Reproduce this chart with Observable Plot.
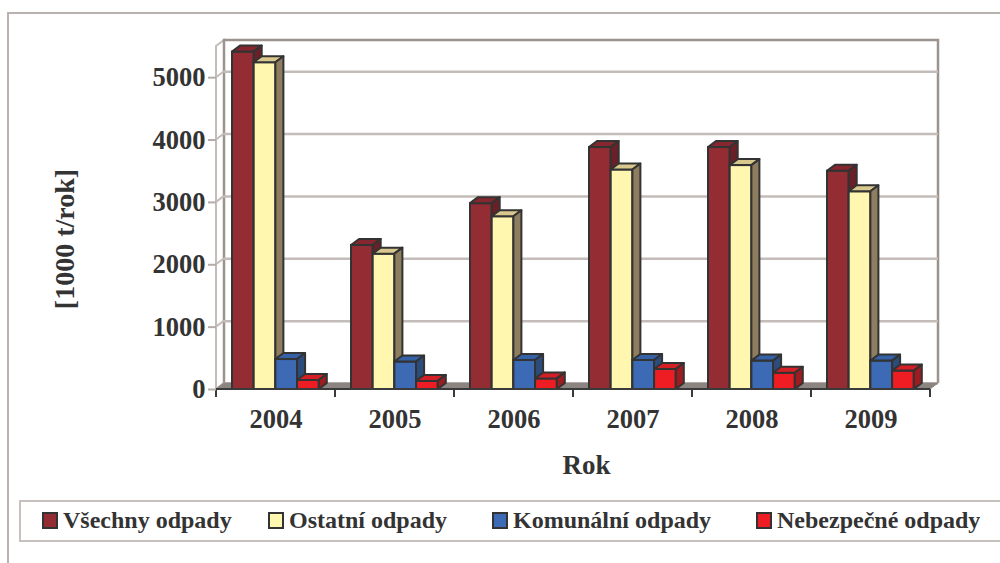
<!DOCTYPE html>
<html><head><meta charset="utf-8">
<script src="https://cdn.jsdelivr.net/npm/d3@7"></script>
<script src="https://cdn.jsdelivr.net/npm/@observablehq/plot@0.6"></script>
<style>
body{margin:0;background:#fff;}
#wrap{position:relative;width:1000px;height:563px;overflow:hidden;font-family:"Liberation Serif","Times New Roman",serif;font-weight:bold;color:#333;}
#frame{position:absolute;left:7px;top:12px;width:1100px;height:700px;border-left:2px solid #bab2ae;border-top:2px solid #bab2ae;}
#chart{position:absolute;left:0;top:0;}
#legend{position:absolute;left:19px;top:500px;width:1100px;height:38px;border:2px solid #c8c0bc;background:#fff;}
.item{position:absolute;top:4px;font-size:24px;line-height:28px;white-space:nowrap;}
.sw{display:inline-block;width:12px;height:13px;border:2px solid #333;margin-right:5px;vertical-align:-1px;}
</style></head>
<body>
<div id="wrap">
  <div id="frame"></div>
  <div id="chart"></div>
  <div id="legend"></div>
</div>
<script>
// ---- data ----
const years = ["2004","2005","2006","2007","2008","2009"];
const seriesNames = ["Všechny odpady","Ostatní odpady","Komunální odpady","Nebezpečné odpady"];
const vsechny    = [5410, 2310, 2980, 3880, 3880, 3500];
const ostatni    = [5240, 2170, 2770, 3520, 3590, 3170];
const komunalni  = [480, 440, 465, 465, 455, 455];
const nebezpecne = [145, 130, 170, 320, 260, 295];
const yTicks = [0, 1000, 2000, 3000, 4000, 5000];
const xTitle = "Rok";
const yTitle = "[1000 t/rok]";
const seriesValues = [vsechny, ostatni, komunalni, nebezpecne];

// ---- styles ----
const frontC = ["#942c34", "#fff6b0", "#3c6ab4", "#ee1d24"];
const topC   = ["#86262e", "#d9c88e", "#3561a6", "#d41f26"];
const sideC  = ["#6b2028", "#8f7d5f", "#2c4d7c", "#9e1b20"];
const DX = 8, DY = 6;
const NS = "http://www.w3.org/2000/svg";

function el(name, attrs) {
  const e = document.createElementNS(NS, name);
  for (const k in attrs) e.setAttribute(k, attrs[k]);
  return e;
}

function bar3d(j) {
  return function(index, scales, values, dimensions, context, next) {
    const g = next(index, scales, values, dimensions, context);
    for (const r of Array.from(g.querySelectorAll("rect"))) {
      const x = +r.getAttribute("x"), y = +r.getAttribute("y");
      const w = +r.getAttribute("width"), h = +r.getAttribute("height");
      const top = el("polygon", {points: `${x},${y} ${x+DX},${y-DY} ${x+w+DX},${y-DY} ${x+w},${y}`,
        fill: topC[j], stroke: "#333", "stroke-width": 2, "stroke-linejoin": "round"});
      const side = el("polygon", {points: `${x+w},${y} ${x+w+DX},${y-DY} ${x+w+DX},${y+h-DY} ${x+w},${y+h}`,
        fill: sideC[j], stroke: "#333", "stroke-width": 2, "stroke-linejoin": "round"});
      r.after(top, side);
    }
    return g;
  };
}

// walls + floor (behind)
function walls(index, scales, values, dimensions) {
  const {marginLeft, marginRight, marginTop, width} = dimensions;
  const x0 = marginLeft, x1 = width - marginRight;
  const y0 = scales.y(0), yT = marginTop;
  const g = el("g", {});
  g.append(el("polygon", {points: `${x0},${y0} ${x0},${yT} ${x0+DX},${yT-DY} ${x0+DX},${y0-DY}`,
    fill: "#fff", stroke: "#c4bcb8", "stroke-width": 2}));
  g.append(el("polyline", {points: `${x0+DX},${y0-DY} ${x0+DX},${yT-DY} ${x1+DX},${yT-DY} ${x1+DX},${y0-DY}`,
    fill: "none", stroke: "#9c928e", "stroke-width": 2.5}));
  for (const t of yTicks) {
    const y = scales.y(t);
    g.append(el("line", {x1: x0, y1: y, x2: x0+DX, y2: y-DY, stroke: "#c4bcb8", "stroke-width": 2}));
  }
  return g;
}
function floor(index, scales, values, dimensions) {
  const {marginLeft, marginRight, width} = dimensions;
  const x0 = marginLeft, x1 = width - marginRight;
  const y0 = scales.y(0);
  const g = el("g", {});
  g.append(el("polygon", {points: `${x0},${y0} ${x1},${y0} ${x1+DX},${y0-DY} ${x0+DX},${y0-DY}`,
    fill: "#8c8480", stroke: "#8c8480", "stroke-width": 1}));
  return g;
}
function frontAxis(index, scales, values, dimensions) {
  const {marginLeft, marginRight, width} = dimensions;
  const x0 = marginLeft, x1 = width - marginRight;
  const y0 = scales.y(0);
  const g = el("g", {});
  g.append(el("line", {x1: x0, y1: y0, x2: x1, y2: y0, stroke: "#3a3a3a", "stroke-width": 2}));
  const xs = years.map(d => scales.x(d)).concat([x1]);
  for (const x of xs) g.append(el("line", {x1: x, y1: y0, x2: x, y2: y0 + 8, stroke: "#3a3a3a", "stroke-width": 2}));
  return g;
}

const barMarks = seriesValues.map((vals, j) => {
  const rows = years.map((y, i) => ({year: y, value: vals[i]}));
  const left = 16 + j * 21.7;
  return Plot.barY(rows, {
    x: "year", y: "value", fill: frontC[j], stroke: "#333", strokeWidth: 2,
    insetLeft: left, insetRight: 119 - left - 21.7,
    render: bar3d(j)
  });
});

const chart = Plot.plot({
  width: 1000, height: 495,
  marginLeft: 216, marginRight: 70, marginTop: 46, marginBottom: 106,
  style: {background: "none", fontFamily: "'Liberation Serif','Times New Roman',serif", fontWeight: "bold", fontSize: "26.5px", color: "#333"},
  x: {domain: years, padding: 0},
  y: {domain: [0, 5500]},
  marks: [
    walls,
    Plot.ruleY(yTicks, {dx: DX, dy: -DY, stroke: "#c4bcb8", strokeWidth: 2.5}),
    floor,
    ...barMarks,
    frontAxis,
    Plot.axisY({ticks: yTicks, tickSize: 8, tickPadding: 3, stroke: "#b4aca8", strokeWidth: 2, fill: "#333",
      tickFormat: d => String(d), label: null}),
    Plot.axisX({tickSize: 0, tickPadding: 20, fill: "#333", label: null}),
    Plot.text([yTitle], {frameAnchor: "left", textAnchor: "middle", lineAnchor: "middle", rotate: -90, dx: -151, dy: 21, fontSize: 28, fill: "#333"}),
    Plot.text([xTitle], {frameAnchor: "bottom", textAnchor: "middle", lineAnchor: "middle", dx: 13, dy: 76, fontSize: 27, fill: "#333"})
  ]
});
document.getElementById("chart").append(chart);

// legend
const legendLeft = [42, 268, 492, 756];
const legend = document.getElementById("legend");
seriesNames.forEach((name, j) => {
  const it = document.createElement("div");
  it.className = "item";
  it.style.left = (legendLeft[j] - 21) + "px";
  const sw = document.createElement("span");
  sw.className = "sw";
  sw.style.background = frontC[j];
  it.append(sw, document.createTextNode(name));
  legend.append(it);
});
</script>
</body></html>
